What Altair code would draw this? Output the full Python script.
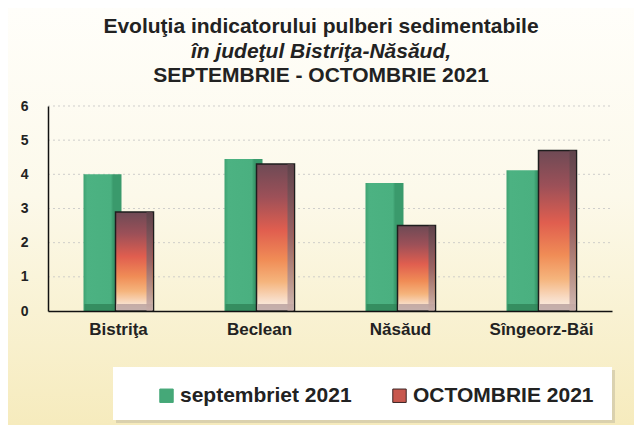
import altair as alt
import pandas as pd

# ---- data ----
categories = ["Bistriţa", "Beclean", "Năsăud", "Sîngeorz-Băi"]
series_names = ["septembriet 2021", "OCTOMBRIE 2021"]
sept_values = [4.0, 4.45, 3.75, 4.12]
oct_values = [2.9, 4.3, 2.5, 4.7]
y_ticks = [0, 1, 2, 3, 4, 5, 6]
title_lines = [
    "Evoluţia indicatorului pulberi sedimentabile",
    "în judeţul Bistriţa-Năsăud,",
    "SEPTEMBRIE - OCTOMBRIE 2021",
]

rows = []
for c, v in zip(categories, sept_values):
    rows.append({"cat": c, "series": series_names[0], "value": v})
for c, v in zip(categories, oct_values):
    rows.append({"cat": c, "series": series_names[1], "value": v})
df = pd.DataFrame(rows)
one = pd.DataFrame([{"k": 0}])
grid_df = pd.DataFrame({"value": y_ticks[1:]})

FONT = "Liberation Sans"
W, H = 564, 205

def stops(pairs):
    return [alt.GradientStop(color=c, offset=o) for o, c in pairs]

bg_grad = alt.Gradient(gradient="linear", x1=0, x2=0, y1=0, y2=1,
                       stops=stops([(0, "#fffefa"), (0.45, "#fcf9ea"), (1, "#f6ebbd")]))
green_grad = alt.Gradient(gradient="linear", x1=0, x2=1, y1=0, y2=0,
                          stops=stops([(0, "#3ea272"), (0.1, "#4cb282"), (0.72, "#4ab080"),
                                       (0.78, "#3a9a6c"), (1, "#3a9a6c")]))
oct_grad = alt.Gradient(gradient="linear", x1=0, x2=0, y1=0, y2=1,
                        stops=stops([(0, "#6e4a55"), (0.22, "#9c5058"), (0.45, "#e05e4f"),
                                     (0.65, "#f08c56"), (0.8, "#f5b47c"), (0.92, "#f8dcc6"),
                                     (1, "#fcf3ea")]))
bevel_grad = alt.Gradient(gradient="linear", x1=0, x2=0, y1=0, y2=1,
                          stops=stops([(0, "#5c4249"), (0.5, "#8c6468"), (1, "#c9aea9")]))

x_scale = alt.Scale(domain=categories, paddingInner=0.546, paddingOuter=0.273)
x_axis = alt.Axis(title=None, labelAngle=0, labelPadding=10, ticks=False,
                  labelFont=FONT, labelFontSize=17, labelFontWeight="bold",
                  labelColor="#222222", domainColor="#111111", domainWidth=1.5,
                  grid=False, zindex=2)
x_enc = alt.X("cat:N", sort=categories, scale=x_scale, axis=x_axis)
xo_enc = alt.XOffset("series:N", scale=alt.Scale(domain=series_names))
y_scale = alt.Scale(domain=[0, 6], nice=False)
y_axis = alt.Axis(title=None, values=y_ticks, ticks=False, labelPadding=20,
                  labelFont=FONT, labelFontSize=14, labelFontWeight="bold",
                  labelColor="#222222", domainColor="#111111", domainWidth=1.5,
                  grid=False, zindex=2)
y_enc = alt.Y("value:Q", scale=y_scale, axis=y_axis)

# background decoration
background = alt.Chart(one).mark_rect(fill=bg_grad, clip=False).encode(
    x=alt.value(-40), x2=alt.value(W + 22), y=alt.value(-98), y2=alt.value(H + 114))

# dotted grid lines (behind bars)
grid = alt.Chart(grid_df).mark_rule(color="#c4c4c4", strokeDash=[2, 3], strokeWidth=1,
                                    opacity=0.8).encode(
    y=y_enc, x=alt.value(0), x2=alt.value(W))

# legend box with shadow
legend_shadow = alt.Chart(one).mark_rect(fill="#cfc6a6", opacity=0.7).encode(
    x=alt.value(68), x2=alt.value(567), y=alt.value(264), y2=alt.value(317))
legend_box = alt.Chart(one).mark_rect(fill="#ffffff").encode(
    x=alt.value(65), x2=alt.value(564), y=alt.value(261), y2=alt.value(314))

base = alt.Chart(df)
sept_df = base.transform_filter(alt.datum.series == series_names[0])
oct_df = base.transform_filter(alt.datum.series == series_names[1])

green_bars = sept_df.mark_bar(width=38, fill=green_grad).encode(
    x=x_enc, xOffset=xo_enc, y=y_enc)
green_floor = sept_df.mark_bar(width=36, fill="#2f8458", opacity=0.8).encode(
    x=x_enc, xOffset=xo_enc, y=alt.value(H - 7), y2=alt.value(H))
oct_bars = oct_df.mark_bar(width=38, fill=oct_grad, stroke="#1e1e1e", strokeWidth=1.5).encode(
    x=x_enc, xOffset=xo_enc, y=y_enc)
oct_floor = oct_df.mark_bar(width=36, fill="#b39a98", opacity=0.75).encode(
    x=x_enc, xOffset=xo_enc, y=alt.value(H - 7), y2=alt.value(H - 0.8))
oct_bevel = oct_df.mark_bar(width=6, xOffset=31, fill=bevel_grad, opacity=0.85).encode(
    x=x_enc, y=y_enc)

leg = alt.Legend(orient="none", legendX=108, legendY=279, direction="horizontal",
                 title=None, symbolType="square", symbolSize=180, symbolOpacity=1,
                 symbolStrokeWidth=1, labelFont=FONT, labelFontSize=21,
                 labelFontWeight="bold", labelColor="#222222", labelLimit=400,
                 labelOffset=3, columnPadding=37, padding=0)
legend_layer = base.mark_point(shape="square", filled=True, opacity=0).encode(
    x=x_enc, xOffset=xo_enc, y=y_enc,
    fill=alt.Fill("series:N", scale=alt.Scale(domain=series_names,
                                              range=["#45a878", "#c8584e"]), legend=leg),
    stroke=alt.Stroke("series:N", scale=alt.Scale(domain=series_names,
                                                  range=["#45a878", "#3a2424"]), legend=leg),
)

t1 = alt.Chart(one).mark_text(font=FONT, fontSize=21, fontWeight="bold", color="#222222",
                              baseline="middle").encode(
    x=alt.value(273), y=alt.value(-79), text=alt.value(title_lines[0]))
t2 = alt.Chart(one).mark_text(font=FONT, fontSize=21, fontWeight="bold", fontStyle="italic",
                              color="#222222", baseline="middle").encode(
    x=alt.value(273), y=alt.value(-54), text=alt.value(title_lines[1]))
t3 = alt.Chart(one).mark_text(font=FONT, fontSize=21, fontWeight="bold", color="#222222",
                              baseline="middle").encode(
    x=alt.value(273), y=alt.value(-30), text=alt.value(title_lines[2]))

chart = alt.layer(
    background, grid, legend_shadow, legend_box,
    green_bars, green_floor, oct_bars, oct_floor, oct_bevel,
    legend_layer, t1, t2, t3,
).properties(
    width=W, height=H,
    autosize=alt.AutoSizeParams(type="none"),
    padding={"left": 40, "top": 98, "right": 22, "bottom": 114},
).configure_view(stroke=None).configure(background="#ffffff")

chart.save("out.html", embed_options={"renderer": "svg", "actions": False})
